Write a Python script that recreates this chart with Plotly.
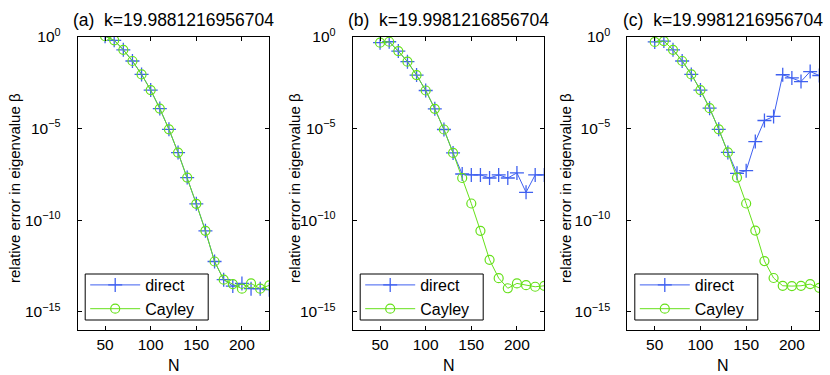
import plotly.graph_objects as go

N = [50, 60, 70, 80, 90, 100, 110, 120, 130, 140, 150, 160, 170, 180, 190, 200, 210, 220, 230]

a_direct = [1.1, 6.6e-1, 2.0e-1, 4.9e-2, 9.1e-3, 1.26e-3, 1.23e-4, 9.1e-6, 4.9e-7, 2.1e-8,
            7.8e-10, 2.6e-11, 5.5e-13, 5.6e-14, 2.5e-14, 3.5e-14, 1.8e-14, 1.8e-14, 1.6e-14]
a_cayley = [1.1, 6.6e-1, 2.0e-1, 4.9e-2, 9.1e-3, 1.26e-3, 1.23e-4, 9.1e-6, 4.9e-7, 2.1e-8,
            7.8e-10, 2.6e-11, 5.5e-13, 5.6e-14, 3.2e-14, 1.8e-14, 3.5e-14, 1.8e-14, 2.75e-14]

b_direct = [4.9e-1, 5.5e-1, 1.7e-1, 4.5e-2, 8.3e-3, 1.2e-3, 1.2e-4, 8.9e-6, 4.7e-7, 3.3e-8,
            2.95e-8, 2.95e-8, 2.0e-8, 2.95e-8, 2.0e-8, 3.8e-8, 3.3e-9, 2.95e-8, 2.95e-8]
b_cayley = [4.9e-1, 5.5e-1, 1.7e-1, 4.5e-2, 8.3e-3, 1.2e-3, 1.2e-4, 8.9e-6, 4.7e-7, 2.0e-8,
            8.1e-10, 2.6e-11, 6.8e-13, 6.8e-14, 1.9e-14, 3.5e-14, 2.8e-14, 2.3e-14, 2.6e-14]

c_direct = [5.4e-1, 6.0e-1, 2.0e-1, 4.9e-2, 9.1e-3, 1.26e-3, 1.3e-4, 9.1e-6, 5.0e-7, 3.6e-8,
            5.0e-8, 1.95e-6, 2.75e-5, 4.6e-5, 8.7e-3, 5.8e-3, 3.7e-3, 1.3e-2, 7.9e-3]
c_cayley = [5.4e-1, 6.0e-1, 2.0e-1, 4.9e-2, 9.1e-3, 1.26e-3, 1.3e-4, 9.1e-6, 5.0e-7, 2.1e-8,
            8.1e-10, 2.7e-11, 5.8e-13, 6.9e-14, 2.6e-14, 2.5e-14, 2.6e-14, 3.2e-14, 2.0e-14]

titles = ["(a)\u00a0 k=19.9881216956704", "(b)\u00a0 k=19.9981216856704", "(c)\u00a0 k=19.9981216956704"]
series_names = ["direct", "Cayley"]
x_ticks = [50, 100, 150, 200]
y_ticks = [1e-15, 1e-10, 1e-5, 1]
y_ticktext = ["10<sup>\u221215</sup>", "10<sup>\u221210</sup>", "10<sup>\u22125</sup>", "10<sup>0</sup>"]
ylabel = "relative error in eigenvalue \u03b2"
xlabel = "N"

W, H = 830, 375
BLUE = "#3f60f0"
GREEN = "#66e01a"
FONT = "Liberation Sans, Arial, sans-serif"

x_dom_px = [(77.7, 269.3), (352.7, 544.3), (627.3, 819.3)]
y_dom_px = (37, 330)
ylab_x_px = [14, 294, 565]
legend_box_y_px = (274, 320)

fig = go.Figure()
data = [(a_direct, a_cayley), (b_direct, b_cayley), (c_direct, c_cayley)]
layout = dict(
    width=W, height=H, autosize=False,
    margin=dict(l=0, r=0, t=0, b=0, pad=0, autoexpand=False),
    paper_bgcolor="white", plot_bgcolor="white",
    font=dict(family=FONT, size=15, color="black"),
    showlegend=True,
    annotations=[],
    shapes=[],
)
ydom = [1 - y_dom_px[1] / H, 1 - y_dom_px[0] / H]
for i, (dd, cc) in enumerate(data):
    sfx = "" if i == 0 else str(i + 1)
    leg = "legend" if i == 0 else "legend" + str(i + 1)
    fig.add_trace(go.Scatter(
        x=N, y=dd, mode="lines+markers", name=series_names[0],
        xaxis="x" + sfx, yaxis="y" + sfx, legend=leg,
        line=dict(color=BLUE, width=1),
        marker=dict(symbol="cross-thin", size=10, color=BLUE, line=dict(color=BLUE, width=1.3)),
    ))
    fig.add_trace(go.Scatter(
        x=N, y=cc, mode="lines+markers", name=series_names[1],
        xaxis="x" + sfx, yaxis="y" + sfx, legend=leg,
        line=dict(color=GREEN, width=1),
        marker=dict(symbol="circle-open", size=9, color=GREEN, line=dict(color=GREEN, width=1.2)),
    ))
    x0, x1 = x_dom_px[i]
    layout["xaxis" + sfx] = dict(
        domain=[x0 / W, x1 / W], anchor="y" + sfx, range=[20, 230], automargin=False,
        tickvals=x_ticks, ticks="inside", ticklen=4, tickcolor="black",
        showline=True, linecolor="black", linewidth=1, mirror="allticks",
        showgrid=False, zeroline=False, tickfont=dict(size=15.5),
    )
    layout["yaxis" + sfx] = dict(
        domain=ydom, anchor="x" + sfx, type="log", range=[-16, 0], automargin=False,
        tickvals=y_ticks, ticktext=y_ticktext, ticks="inside", ticklen=4, tickcolor="black",
        showline=True, linecolor="black", linewidth=1, mirror="allticks",
        showgrid=False, zeroline=False, tickfont=dict(size=15.5), ticklabelstandoff=13,
    )
    by0, by1 = legend_box_y_px
    layout["shapes"].append(dict(
        type="rect", xref="paper", yref="paper", layer="above",
        x0=(x0 + 7.5) / W, x1=(x0 + 130.5) / W, y0=1 - by1 / H, y1=1 - by0 / H,
        fillcolor="white", line=dict(color="black", width=1)))
    layout[leg] = dict(
        x=(x0 + 7.5) / W, y=1 - (by0 + by1) / 2 / H, xanchor="left", yanchor="middle",
        xref="paper", yref="paper", itemwidth=50,
        bgcolor="rgba(0,0,0,0)", borderwidth=0,
        font=dict(size=16, family=FONT), tracegroupgap=0,
    )
    cx = (x0 + x1) / 2
    layout["annotations"].append(dict(
        text=titles[i], x=cx / W, y=1 - 20 / H, xref="paper", yref="paper",
        xanchor="center", yanchor="middle", showarrow=False, font=dict(size=17.5)))
    layout["annotations"].append(dict(
        text=ylabel, x=ylab_x_px[i] / W, y=1 - 188 / H, xref="paper", yref="paper",
        xanchor="center", yanchor="middle", textangle=-90, showarrow=False, font=dict(size=15)))
    layout["annotations"].append(dict(
        text=xlabel, x=cx / W, y=1 - 365 / H, xref="paper", yref="paper",
        xanchor="center", yanchor="middle", showarrow=False, font=dict(size=16)))

fig.update_layout(**layout)
fig.write_html("out.html", config={"displayModeBar": False},
               post_script="document.body.style.margin='0';")
